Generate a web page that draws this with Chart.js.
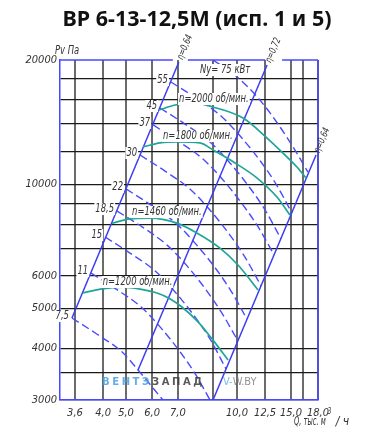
<!DOCTYPE html>
<html>
<head>
<meta charset="utf-8">
<script src="https://cdn.jsdelivr.net/npm/chart.js@4.4.0/dist/chart.umd.min.js"></script>
<style>
  html, body { margin: 0; padding: 0; background: #fff; }
  canvas { display: block; }
</style>
</head>
<body>
<canvas id="chart" width="384" height="444"></canvas>
<script>
/**
 * Axis ticks.
 */
const Q_TICKS = [3.6, 4, 5, 6, 7, 8.5, 10, 12.5, 15, 17, 18];
const Q_TICK_LABELS = ['3,6', '4,0', '5,0', '6,0', '7,0', '', '10,0', '12,5', '15,0', '', '18,0'];
const P_TICKS = [3000, 3500, 4000, 5000, 6000, 7000, 8000, 9000, 10000, 12000, 14000, 16000, 18000, 20000];
const P_TICK_LABELS = [3000, 4000, 5000, 6000, 10000, 20000];

/**
 * Fan curves [Q, Pv] for each speed.
 */
const SPEED_LABELS = ['n=2000 об/мин.', 'n=1800 об/мин.', 'n=1460 об/мин.', 'n=1200 об/мин.'];
const FAN_2000 = [[6.27, 15130], [6.89, 15560], [7.73, 15730], [8.5, 15390], [10.54, 14470], [12.69, 12940], [14.23, 11900], [16.0, 11010], [17.2, 10350]];
const FAN_1800 = [[5.65, 12310], [6.31, 12590], [6.96, 12660], [7.94, 12590], [8.5, 12100], [9.88, 11260], [11.79, 10350], [13.65, 9310], [14.9, 8420]];
const FAN_1460 = [[4.39, 8050], [5.15, 8240], [5.92, 8280], [6.96, 8050], [7.81, 7620], [8.94, 7000], [10.09, 6370], [11.88, 5540]];
const FAN_1200 = [[3.71, 5450], [3.96, 5570], [4.87, 5630], [5.54, 5570], [6.19, 5450], [6.69, 5280], [7.17, 5040], [7.86, 4640], [8.5, 4190], [9.44, 3750]];

/**
 * Power lines, kW.
 */
const POWER_LABELS = ['7,5', '11', '15', '18,5', '22', '30', '37', '45', '55', '75'];
const POWER_7_5 = [[3.54, 4740], [3.91, 4335], [4.83, 3920], [5.46, 3546], [6.42, 3000]];
const POWER_11 = [[3.83, 6090], [4.57, 5570], [5.58, 5040], [6.35, 4480], [7.13, 3900], [7.77, 3450], [8.37, 3000]];
const POWER_15 = [[4.09, 7450], [5.15, 6810], [6.12, 6160], [6.89, 5480], [7.73, 4770], [8.37, 4220], [9.31, 3570]];
const POWER_18_5 = [[4.61, 8610], [5.62, 7880], [6.58, 7120], [7.39, 6340], [8.24, 5510], [9.06, 4870], [10.09, 4170]];
const POWER_22 = [[5.0, 9740], [5.96, 8900], [6.92, 8050], [7.77, 7160], [8.69, 6230], [9.63, 5510], [10.89, 4710]];
const POWER_30 = [[5.54, 11770], [6.5, 10760], [7.51, 9740], [8.37, 8660], [9.56, 7530], [10.71, 6660], [12.14, 5670]];
const POWER_37 = [[6.04, 13920], [7.0, 12730], [8.07, 11510], [9.13, 10240], [10.54, 8900], [11.88, 7880], [13.37, 6740]];
const POWER_45 = [[6.31, 15300], [7.3, 13990], [8.37, 12660], [9.56, 11260], [11.16, 9790], [12.5, 8660], [14.04, 7370]];
const POWER_55 = [[6.73, 17690], [7.77, 16180], [9.0, 14630], [10.36, 13010], [12.14, 11320], [13.56, 10010], [15.17, 8520]];
const POWER_75 = [[8.5, 20000], [9.94, 18290], [11.88, 16180], [13.75, 13990], [15.67, 12100], [17.33, 10700]];

/**
 * Efficiency lines.
 */
const ETA_LABELS = ['η=0,64', 'η=0,72', 'η=0,64'];
const ETA_LEFT = [[3.54, 4740], [7.04, 19780]];
const ETA_MID = [[5.46, 3546], [12.69, 19450]];
const ETA_RIGHT = [[8.5, 3000], [17.87, 11770]];

/**
 * Styles.
 */
const TEAL = '#1ea597';
const FRAME = '#4848ff';
const ETA_BLUE = '#3c3cf2';
const DASH_BLUE = '#4a4aff';
const TEXT = '#333';
const FONT = "'DejaVu Sans Condensed', 'DejaVu Sans', sans-serif";
const NARROW = 0.78;

/**
 * The printed Q axis is not uniform: share of the axis length at each grid value.
 */
const Q_KNOTS = [3.3, 3.6, 4, 5, 6, 7, 8.5, 10, 12.5, 15, 17, 18];
const Q_KNOT_SHARE = [0, 0.058, 0.167, 0.256, 0.357, 0.457, 0.593, 0.686, 0.795, 0.895, 0.942, 1];

function interp(v, from, to) {
  let i = 1;
  while (i < from.length - 1 && v > from[i]) i += 1;
  const t = (v - from[i - 1]) / (from[i] - from[i - 1]);
  return to[i - 1] + t * (to[i] - to[i - 1]);
}

const BaseLinear = Chart.LinearScale || Chart.registry.getScale('linear');

class KnotScale extends BaseLinear {
  getPixelForValue(value) {
    if (value === null || isNaN(value)) return NaN;
    return this.getPixelForDecimal(interp(value, Q_KNOTS, Q_KNOT_SHARE));
  }

  getValueForPixel(pixel) {
    return interp(this.getDecimalForPixel(pixel), Q_KNOT_SHARE, Q_KNOTS);
  }
}
KnotScale.id = 'knot';
KnotScale.defaults = BaseLinear.defaults;
Chart.register(KnotScale);

const toPoints = (rows) => rows.map(([x, y]) => ({ x, y }));

const fanSeries = [FAN_2000, FAN_1800, FAN_1460, FAN_1200];
const powerSeries = [POWER_7_5, POWER_11, POWER_15, POWER_18_5, POWER_22, POWER_30, POWER_37, POWER_45, POWER_55, POWER_75];
const etaSeries = [ETA_LEFT, ETA_MID, ETA_RIGHT];

const datasets = [
  ...fanSeries.map((rows, i) => ({
    label: SPEED_LABELS[i],
    data: toPoints(rows),
    borderColor: TEAL,
    borderWidth: 1.7,
    cubicInterpolationMode: 'monotone',
  })),
  ...etaSeries.map((rows, i) => ({
    label: ETA_LABELS[i],
    data: toPoints(rows),
    borderColor: ETA_BLUE,
    borderWidth: 1.5,
  })),
  ...powerSeries.map((rows, i) => ({
    label: POWER_LABELS[i],
    data: toPoints(rows),
    borderColor: DASH_BLUE,
    borderWidth: 1.4,
    borderDash: [8, 4],
    cubicInterpolationMode: 'monotone',
  })),
];

/**
 * Narrowed italic text, optionally with a white patch behind it.
 */
function narrowText(ctx, text, x, y, align, patch, sx = NARROW) {
  const w = ctx.measureText(text).width * sx;
  const left = align === 'right' ? x - w : x;
  if (patch) {
    ctx.fillStyle = '#fff';
    ctx.fillRect(left - 1, y - 6, w + 2, 12);
  }
  ctx.save();
  ctx.translate(left, y);
  ctx.scale(sx, 1);
  ctx.fillStyle = TEXT;
  ctx.textAlign = 'left';
  ctx.fillText(text, 0, 0);
  ctx.restore();
  return w;
}

const annotate = {
  id: 'annotate',
  beforeDatasetsDraw(chart) {
    const { ctx, chartArea: { left, right, top, bottom } } = chart;
    const xs = chart.scales.x;
    const leftTop = xs.getPixelForValue(ETA_LEFT[1][0]);
    const midTop = xs.getPixelForValue(ETA_MID[1][0]);
    ctx.save();
    ctx.strokeStyle = FRAME;
    ctx.lineWidth = 1.5;
    ctx.beginPath();
    ctx.moveTo(right, top);
    ctx.lineTo(right, bottom);
    [[left, leftTop - 6], [leftTop + 9, midTop - 2], [midTop + 15, right]].forEach(([a, b]) => {
      ctx.moveTo(a, top);
      ctx.lineTo(b, top);
    });
    ctx.stroke();
    ctx.restore();
  },
  afterDatasetsDraw(chart) {
    const { ctx } = chart;
    const xs = chart.scales.x;
    const ys = chart.scales.y;
    const px = ([q, p]) => [xs.getPixelForValue(q), ys.getPixelForValue(p)];

    ctx.save();
    ctx.font = `italic 12px ${FONT}`;
    ctx.textBaseline = 'middle';

    // power labels at the start of each dashed line
    powerSeries.slice(0, -1).forEach((rows, i) => {
      const [x, y] = px(rows[0]);
      narrowText(ctx, POWER_LABELS[i], x - 3, y - 2, 'right', true);
    });
    const [nx, ny] = px(POWER_75[0]);
    narrowText(ctx, `Ny= ${POWER_LABELS[POWER_LABELS.length - 1]} кВт`, nx - 13, ny + 10, 'left', true);

    // speed labels
    fanSeries.forEach((rows, i) => {
      const [x, y] = px(rows[0]);
      narrowText(ctx, SPEED_LABELS[i], x + 20, y - 11, 'left', true);
    });

    // efficiency labels, turned along their lines
    ctx.font = `italic 10px ${FONT}`;
    etaSeries.forEach((rows, i) => {
      const [x0, y0] = px(rows[0]);
      const [x1, y1] = px(rows[1]);
      const ang = Math.atan2(y1 - y0, x1 - x0);
      ctx.save();
      ctx.translate(x1 + Math.cos(ang) * 3, y1 + Math.sin(ang) * 3);
      ctx.rotate(ang);
      narrowText(ctx, ETA_LABELS[i], 0, 0, 'left', false);
      ctx.restore();
    });
    ctx.restore();
  },
  afterDraw(chart) {
    const { ctx } = chart;
    ctx.save();
    ctx.fillStyle = '#111';
    ctx.textAlign = 'center';
    ctx.textBaseline = 'middle';
    ctx.font = "bold 21.5px 'Noto Sans', sans-serif";
    ctx.fillText('ВР 6-13-12,5М (исп. 1 и 5)', 197, 20);

    ctx.font = `italic 12px ${FONT}`;
    narrowText(ctx, 'Pv Па', 55, 51, 'left', false);
    const qw = narrowText(ctx, 'Q, тыс. м', 294, 422, 'left', false, 0.62);
    ctx.font = `italic 8px ${FONT}`;
    narrowText(ctx, '3', 294 + qw + 2, 412, 'left', false);
    ctx.font = `italic 12px ${FONT}`;
    narrowText(ctx, '/ ч', 294 + qw + 10, 422, 'left', false, 1);

    // watermark
    ctx.textAlign = 'left';
    ctx.font = "bold 10px 'DejaVu Sans', sans-serif";
    ctx.letterSpacing = '2.6px';
    ctx.fillStyle = 'rgba(70,160,225,0.85)';
    ctx.fillText('ВЕНТЭ', 102, 382);
    const w = ctx.measureText('ВЕНТЭ').width;
    ctx.fillStyle = 'rgba(60,60,60,0.85)';
    ctx.fillText('ЗАПАД', 102 + w, 382);
    ctx.letterSpacing = '0px';
    ctx.font = "11px 'DejaVu Sans Condensed', sans-serif";
    ctx.fillStyle = 'rgba(90,170,230,0.8)';
    ctx.fillText('V-', 223, 382);
    ctx.fillStyle = 'rgba(120,120,120,0.8)';
    ctx.fillText('W.BY', 223 + ctx.measureText('V-').width, 382);
    ctx.restore();
  },
};

const tickFont = { family: FONT, size: 11, style: 'italic' };

new Chart(document.getElementById('chart'), {
  type: 'line',
  data: { datasets },
  options: {
    responsive: false,
    animation: false,
    devicePixelRatio: 1,
    layout: { padding: { top: 60, right: 66, bottom: 0, left: 0 } },
    elements: { point: { radius: 0 }, line: { tension: 0 } },
    plugins: { legend: { display: false }, tooltip: { enabled: false } },
    scales: {
      x: {
        type: 'knot',
        min: 3.3,
        max: 18,
        afterBuildTicks: (scale) => { scale.ticks = Q_TICKS.map((value) => ({ value })); },
        afterFit: (scale) => { scale.height = 44; },
        ticks: {
          autoSkip: false,
          maxRotation: 0,
          padding: 7,
          color: TEXT,
          font: tickFont,
          callback: (value) => Q_TICK_LABELS[Q_TICKS.indexOf(value)] ?? '',
        },
        grid: { color: 'rgba(70,70,70,0.8)', lineWidth: 2, drawTicks: false },
        border: { color: FRAME, width: 1.5 },
      },
      y: {
        type: 'logarithmic',
        min: 3000,
        max: 20000,
        afterBuildTicks: (scale) => { scale.ticks = P_TICKS.map((value) => ({ value })); },
        afterFit: (scale) => { scale.width = 60; },
        ticks: {
          autoSkip: false,
          padding: 3,
          color: TEXT,
          font: tickFont,
          callback: (value) => (P_TICK_LABELS.includes(value) ? String(value) : ''),
        },
        grid: {
          color: (c) => (c.tick && c.tick.value === 20000 ? 'rgba(0,0,0,0)' : '#1a1a1a'),
          lineWidth: 1.2,
          drawTicks: false,
        },
        border: { color: FRAME, width: 1.5 },
      },
    },
  },
  plugins: [annotate],
});
</script>
</body>
</html>
